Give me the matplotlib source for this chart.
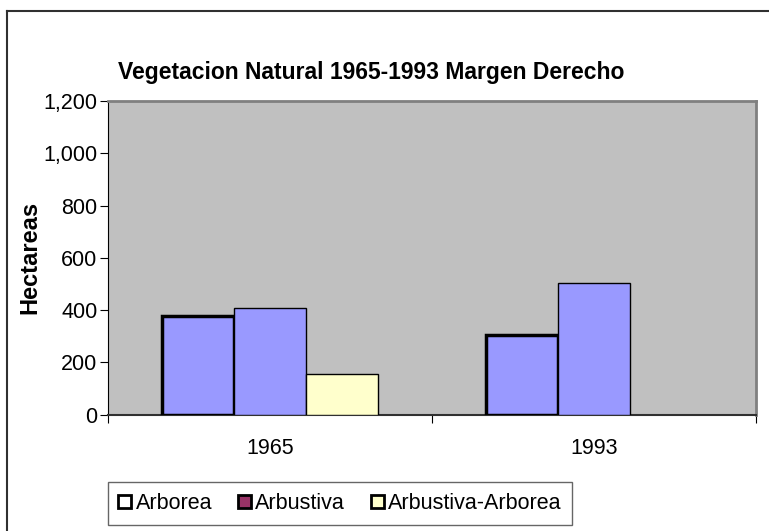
import matplotlib.pyplot as plt
from matplotlib.patches import Patch
from matplotlib.lines import Line2D
import numpy as np

plt.rcParams['font.family'] = ['Liberation Sans', 'DejaVu Sans']

# Data
years = ['1965', '1993']
series = ['Arborea', 'Arbustiva', 'Arbustiva-Arborea']
arborea = [377, 304]
arbustiva = [409, 502]
arbustiva_arborea = [154, 0]
yticks = [0, 200, 400, 600, 800, 1000, 1200]

fig = plt.figure(figsize=(7.69, 5.31), dpi=100)
ax = fig.add_axes([108 / 769, 1 - 414.6 / 531, 648 / 769, 313.6 / 531])
ax.set_facecolor('#C0C0C0')

x = np.arange(len(years))
w = 2 / 9
ax.bar(x - w, arborea, w, color='#9999FF', edgecolor='black', linewidth=2.5, zorder=3)
ax.bar(x, arbustiva, w, color='#9999FF', edgecolor='black', linewidth=1, zorder=3)
vals = np.array(arbustiva_arborea)
ax.bar(x[vals > 0] + w, vals[vals > 0], w, color='#FFFFCC', edgecolor='black', linewidth=1, zorder=3)

ax.set_xlim(-0.5, len(years) - 0.5)
ax.set_ylim(0, 1200)
ax.set_yticks(yticks)
ax.set_yticklabels(['{:,}'.format(v) for v in yticks], fontsize=15.5)
ax.set_xticks(np.arange(-0.5, len(years), 1))
ax.set_xticklabels([])
ax.set_xticks(x, minor=True)
ax.set_xticklabels(years, minor=True, fontsize=15.5)
ax.tick_params(axis='x', which='minor', length=0, pad=17)
ax.tick_params(axis='x', which='major', length=6, direction='out', color='black')
ax.tick_params(axis='y', length=6, direction='out', color='black', pad=1.5)

for s in ['top', 'right']:
    ax.spines[s].set_color('#808080')
    ax.spines[s].set_linewidth(2)
ax.spines['left'].set_color('black')
ax.spines['bottom'].set_color('#303030')
ax.spines['bottom'].set_linewidth(1.5)

ax.set_ylabel('Hectareas', fontsize=17, fontweight='bold')
ax.yaxis.set_label_coords((41 - 108) / 648, 0.5)
fig.text(371 / 769, 1 - 73 / 531, 'Vegetacion Natural 1965-1993 Margen Derecho',
         ha='center', va='center', fontsize=16.5, fontweight='bold')

handles = [Patch(facecolor='white', edgecolor='black', linewidth=2),
           Patch(facecolor='#993366', edgecolor='black', linewidth=2),
           Patch(facecolor='#FFFFCC', edgecolor='black', linewidth=2)]
leg = fig.legend(handles, series, loc='center', bbox_to_anchor=(340 / 769, 1 - 503.5 / 531),
                 ncol=3, fontsize=15.5, frameon=True, fancybox=False, edgecolor='#404040',
                 handlelength=0.6, handleheight=0.6, handletextpad=0.2, columnspacing=1.2,
                 borderpad=0.5, borderaxespad=0)
leg.get_frame().set_linewidth(1)

# outer chart frame (cropped on right and bottom)
fig.add_artist(Line2D([7 / 769, 7 / 769], [0, 1 - 11 / 531], transform=fig.transFigure,
                      color='#303030', linewidth=1.5))
fig.add_artist(Line2D([7 / 769, 1], [1 - 11 / 531, 1 - 11 / 531], transform=fig.transFigure,
                      color='#303030', linewidth=1.5))

fig.savefig('out.png', dpi=100)
